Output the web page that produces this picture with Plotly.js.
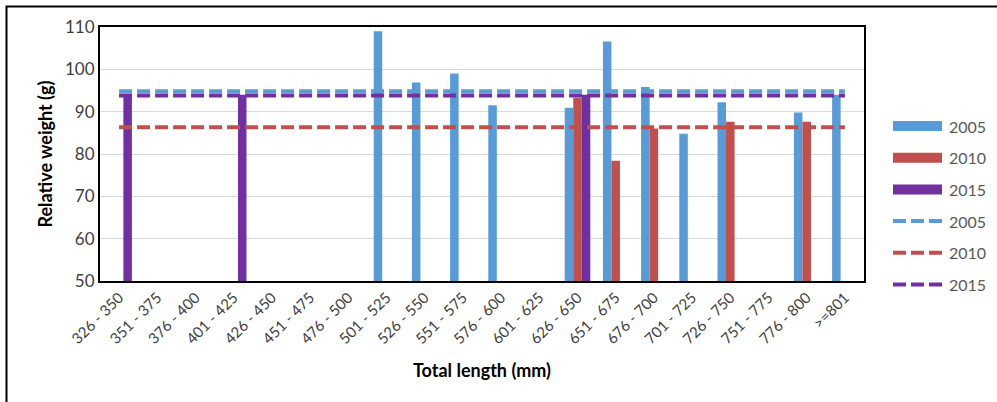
<!DOCTYPE html>
<html><head><meta charset="utf-8">
<script src="https://cdn.plot.ly/plotly-3.0.1.min.js"></script>
<style>html,body{margin:0;padding:0;background:#fff;}#chart{width:997px;height:402px;}</style>
</head><body><div id="chart"></div>
<script>
const categories = ["326 - 350","351 - 375","376 - 400","401 - 425","426 - 450","451 - 475","476 - 500","501 - 525","526 - 550","551 - 575","576 - 600","601 - 625","626 - 650","651 - 675","676 - 700","701 - 725","726 - 750","751 - 775","776 - 800",">=801"];
const bars2005 = [null,null,null,null,null,null,null,109.0,96.9,99.0,91.5,null,90.9,106.6,95.8,84.8,92.2,null,89.8,94.0];
const bars2010 = [null,null,null,null,null,null,null,null,null,null,null,null,93.3,78.4,86.0,null,87.6,null,87.6,null];
const bars2015 = [93.8,null,null,94.0,null,null,null,null,null,null,null,null,94.0,null,null,null,null,null,null,null];
const mean2005 = [94.8,94.8,94.8,94.8,94.8,94.8,94.8,94.8,94.8,94.8,94.8,94.8,94.8,94.8,94.8,94.8,94.8,94.8,94.8,94.8];
const mean2010 = [86.3,86.3,86.3,86.3,86.3,86.3,86.3,86.3,86.3,86.3,86.3,86.3,86.3,86.3,86.3,86.3,86.3,86.3,86.3,86.3];
const mean2015 = [93.8,93.8,93.8,93.8,93.8,93.8,93.8,93.8,93.8,93.8,93.8,93.8,93.8,93.8,93.8,93.8,93.8,93.8,93.8,93.8];
const seriesNames = ["2005","2010","2015"];

const cBlue = "#5B9BD5", cRed = "#C0504D", cPurple = "#7030A0";
const font = "Lato, 'Open Sans', sans-serif";
const dashStyle = "13px,5px";

const traces = [
  {type:"bar", x:categories, y:bars2005, name:seriesNames[0], marker:{color:cBlue}},
  {type:"bar", x:categories, y:bars2010, name:seriesNames[1], marker:{color:cRed}},
  {type:"bar", x:categories, y:bars2015, name:seriesNames[2], marker:{color:cPurple}},
  {type:"scatter", mode:"lines", x:categories, y:mean2005, name:seriesNames[0], line:{color:cBlue, width:4, dash:dashStyle}},
  {type:"scatter", mode:"lines", x:categories, y:mean2010, name:seriesNames[1], line:{color:cRed, width:4, dash:dashStyle}},
  {type:"scatter", mode:"lines", x:categories, y:mean2015, name:seriesNames[2], line:{color:cPurple, width:4, dash:dashStyle}}
];

// plot-area geometry (pixels) used to place the hand-drawn legend
const M = {l:100, r:133, t:27, b:121};
const PW = 997 - M.l - M.r, PH = 402 - M.t - M.b;
const px = v => (v - M.l) / PW;
const py = v => (402 - M.b - v) / PH;

const legendColors = [cBlue, cRed, cPurple, cBlue, cRed, cPurple];
const legendYs = [126, 157.7, 189.4, 221.1, 252.8, 284.5];
const shapes = [{type:"rect", xref:"paper", yref:"paper", x0:px(6.5), x1:1.4, y0:-1, y1:py(6.5), line:{color:"#000", width:2}, fillcolor:"rgba(0,0,0,0)", layer:"below"}];
const annotations = [];
legendYs.forEach((yy, i) => {
  if (i < 3) {
    shapes.push({type:"rect", xref:"paper", yref:"paper", x0:px(893), x1:px(942), y0:py(yy+5), y1:py(yy-5), fillcolor:legendColors[i], line:{width:0}});
  } else {
    shapes.push({type:"line", xref:"paper", yref:"paper", x0:px(893), x1:px(942), y0:py(yy), y1:py(yy), line:{color:legendColors[i], width:4, dash:dashStyle}});
  }
  annotations.push({xref:"paper", yref:"paper", x:px(947), y:py(yy), xanchor:"left", yanchor:"middle", showarrow:false, text:seriesNames[i % 3], font:{size:16, color:"#595959", family:font}});
});

const layout = {
  width:997, height:402,
  margin:M,
  paper_bgcolor:"#fff", plot_bgcolor:"#fff",
  font:{family:font, color:"#404040", size:14},
  barmode:"group", bargap:0.33, bargroupgap:0,
  showlegend:false,
  xaxis:{type:"category", tickangle:-45, tickfont:{size:15, color:"#404040"}, showline:true, mirror:true, linecolor:"#000", linewidth:2, ticks:"", showgrid:false,
         title:{text:"Total length (mm)", font:{size:18, color:"#000", weight:"bold"}, standoff:18}},
  yaxis:{range:[50,110], dtick:10, tickfont:{size:17, color:"#404040"}, showline:true, mirror:true, linecolor:"#000", linewidth:2, gridcolor:"#D9D9D9", gridwidth:1, ticks:"", zeroline:false,
         title:{text:"Relative weight (g)", font:{size:18, color:"#000", weight:"bold"}, standoff:8}},
  shapes:shapes,
  annotations:annotations
};

Plotly.newPlot("chart", traces, layout, {displayModeBar:false, staticPlot:true});
</script></body></html>
